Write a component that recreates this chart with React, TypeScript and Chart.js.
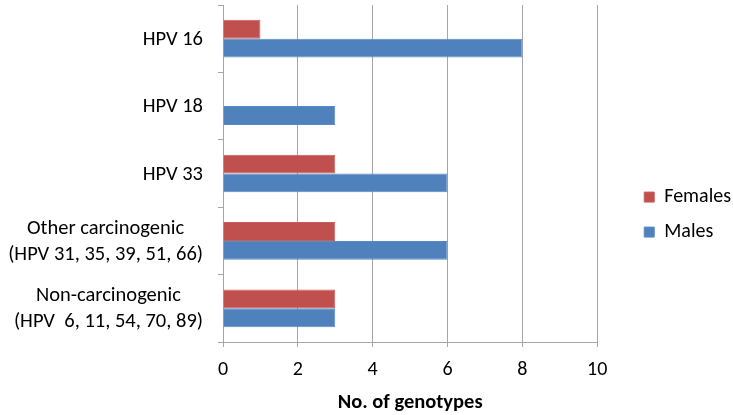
import React, { useEffect, useRef } from "react";
import { Chart, registerables } from "chart.js";

Chart.register(...registerables);

const categories: string[][] = [
  ["HPV 16"],
  ["HPV 18"],
  ["HPV 33"],
  ["Other carcinogenic", "(HPV 31, 35, 39, 51, 66)"],
  ["Non-carcinogenic", "(HPV  6, 11, 54, 70, 89)"],
];
const females: number[] = [1, 0, 3, 3, 3];
const males: number[] = [8, 3, 6, 6, 3];
const xTicks: number[] = [0, 2, 4, 6, 8, 10];
const xTitle = "No. of genotypes";

const FONT = "Carlito, Calibri, Lato, sans-serif";
const LABEL_SIZE = 20.5;
const LABEL_LINE = 26;

const centeredYLabels = {
  id: "centeredYLabels",
  afterDraw(chart: any) {
    const scale = chart.scales.y;
    const ctx = chart.ctx as CanvasRenderingContext2D;
    ctx.save();
    ctx.fillStyle = "#000";
    ctx.font = `${LABEL_SIZE}px ${FONT}`;
    ctx.textAlign = "center";
    ctx.textBaseline = "middle";
    const rightEdge = scale.right - 20;
    categories.forEach((lines, i) => {
      const yc = scale.getPixelForTick(i);
      const widest = Math.max(...lines.map((l) => ctx.measureText(l).width));
      const xc = rightEdge - widest / 2;
      const top = yc - ((lines.length - 1) * LABEL_LINE) / 2;
      lines.forEach((l, j) => ctx.fillText(l, xc, top + j * LABEL_LINE + 1));
    });
    ctx.restore();
  },
};

export default function App() {
  const ref = useRef<HTMLCanvasElement | null>(null);
  useEffect(() => {
    document.body.style.margin = "0";
    const ctx = ref.current!;
    const chart = new Chart(ctx, {
      type: "bar",
      data: {
        labels: categories,
        datasets: [
          {
            label: "Females",
            data: females,
            backgroundColor: "#C0504D",
            borderColor: "#C95E5B",
            borderWidth: 1,
            categoryPercentage: 0.56,
            barPercentage: 1,
          },
          {
            label: "Males",
            data: males,
            backgroundColor: "#4F81BD",
            borderColor: "#5A8AC4",
            borderWidth: 1,
            categoryPercentage: 0.56,
            barPercentage: 1,
          },
        ],
      },
      plugins: [centeredYLabels],
      options: {
        indexAxis: "y",
        animation: false,
        responsive: false,
        maintainAspectRatio: false,
        layout: { padding: { top: 5, left: 0, right: -8, bottom: 0 } },
        plugins: {
          tooltip: { enabled: false },
          legend: {
            position: "right",
            title: {
              display: true,
              text: "",
              font: { size: 1 },
              padding: { top: 8, bottom: 0 },
            },
            labels: {
              boxWidth: 10,
              boxHeight: 10,
              padding: 15,
              color: "#000",
              font: { family: FONT, size: 20 },
            },
          },
        },
        scales: {
          x: {
            min: 0,
            max: 10,
            afterBuildTicks: (scale: any) => {
              scale.ticks = xTicks.map((v) => ({ value: v }));
            },
            afterFit: (scale: any) => {
              scale.height = 73;
            },
            grid: {
              color: "#A6A6A6",
              lineWidth: 1,
              tickLength: 5,
              drawTicks: true,
            },
            border: { color: "#A6A6A6" },
            ticks: {
              color: "#000",
              padding: 11,
              font: { family: FONT, size: 20 },
            },
            title: {
              display: true,
              text: xTitle,
              color: "#000",
              font: { family: FONT, size: 20.5, weight: "bold" },
              padding: { top: 0, bottom: 0 },
            },
          },
          y: {
            afterFit: (scale: any) => {
              scale.width = 223;
              scale.paddingTop = 0;
              scale.paddingBottom = 0;
            },
            grid: {
              drawOnChartArea: false,
              drawTicks: true,
              tickLength: 5,
              color: "#A6A6A6",
            },
            border: { color: "#A6A6A6" },
            ticks: { display: false },
          },
          yR: {
            type: "linear",
            position: "right",
            display: true,
            grid: { display: false, drawTicks: false },
            border: { display: false },
            ticks: { display: false },
            afterFit: (scale: any) => {
              scale.width = 32;
              scale.paddingTop = 0;
              scale.paddingBottom = 0;
            },
          },
        },
      },
    });
    return () => chart.destroy();
  }, []);
  return (
    <div style={{ width: 733, height: 415 }}>
      <canvas ref={ref} width={733} height={415} style={{ display: "block" }} />
    </div>
  );
}
